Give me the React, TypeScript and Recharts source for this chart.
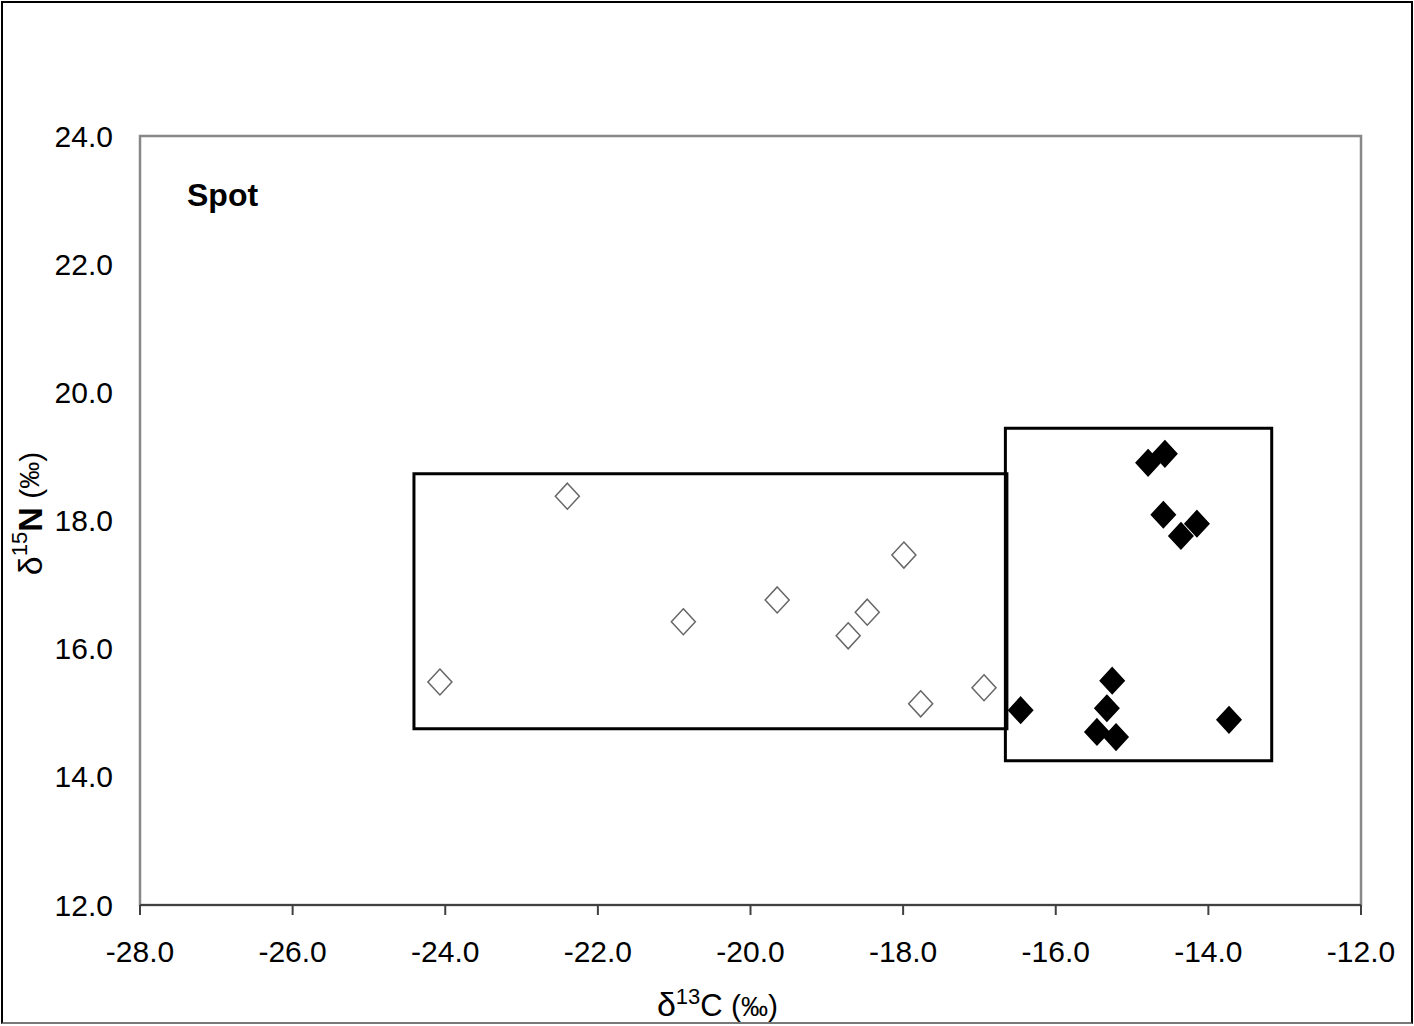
import {
  Label,
  ReferenceArea,
  Scatter,
  ScatterChart,
  XAxis,
  YAxis,
} from 'recharts';

// δ13C / δ15N readings for the two groups
const openX = [-24.07, -22.4, -20.88, -19.65, -18.72, -18.47, -17.99, -17.77, -16.94];
const openY = [15.48, 18.38, 16.42, 16.76, 16.2, 16.57, 17.46, 15.14, 15.39];
const filledX = [-16.46, -15.26, -15.33, -15.46, -15.21, -13.73, -14.79, -14.57, -14.59, -14.36, -14.15];
const filledY = [15.04, 15.5, 15.07, 14.7, 14.62, 14.89, 18.9, 19.04, 18.09, 17.76, 17.95];

// group boxes: [x1, x2, y1, y2]
const openBox = [-24.41, -16.64, 14.75, 18.73];
const filledBox = [-16.66, -13.17, 14.25, 19.44];

const xTicks = [-28, -26, -24, -22, -20, -18, -16, -14, -12];
const yTicks = [12, 14, 16, 18, 20, 22, 24];

const openData = openX.map((x, i) => ({ x, y: openY[i] }));
const filledData = filledX.map((x, i) => ({ x, y: filledY[i] }));

const FONT = '"Liberation Sans", Arial, sans-serif';

const diamond = (fill: string, stroke: string) => (props: any) => {
  const { cx, cy } = props;
  return (
    <polygon
      points={`${cx},${cy - 13} ${cx + 12},${cy} ${cx},${cy + 13} ${cx - 12},${cy}`}
      fill={fill}
      stroke={stroke}
      strokeWidth={1.5}
    />
  );
};

const YTitle = (props: any) => {
  const vb = props.viewBox;
  const x = vb.x + 30;
  const y = vb.y + vb.height / 2 - 7;
  return (
    <text
      x={x}
      y={y}
      transform={`rotate(-90 ${x} ${y})`}
      textAnchor="middle"
      dominantBaseline="central"
      fontFamily={FONT}
      fill="#000"
    >
      <tspan fontSize={34}>δ</tspan>
      <tspan fontSize={22} dy={-11}>15</tspan>
      <tspan fontSize={34} fontWeight="bold" dy={11}>N</tspan>
      <tspan fontSize={30}> (</tspan>
      <tspan fontSize={27}>‰</tspan>
      <tspan fontSize={30}>)</tspan>
    </text>
  );
};

const XTitle = (props: any) => {
  const vb = props.viewBox;
  const x = vb.x + vb.width / 2 - 33;
  const y = vb.y + 111;
  return (
    <text x={x} y={y} textAnchor="middle" fontFamily={FONT} fill="#000">
      <tspan fontSize={34}>δ</tspan>
      <tspan fontSize={22} dy={-12}>13</tspan>
      <tspan fontSize={31} dy={12}>C</tspan>
      <tspan fontSize={30}> (</tspan>
      <tspan fontSize={27}>‰</tspan>
      <tspan fontSize={30}>)</tspan>
    </text>
  );
};

export default function App() {
  return (
    <div style={{ position: 'absolute', left: 0, top: 0, width: 1414, height: 1026, background: '#fff' }}>
      <ScatterChart
        width={1414}
        height={1026}
        margin={{ top: 136, right: 53, left: 0, bottom: 0 }}
        style={{ fontFamily: FONT }}
      >
        <XAxis
          type="number"
          dataKey="x"
          domain={[-28, -12]}
          ticks={xTicks}
          tickFormatter={(v: number) => v.toFixed(1)}
          height={121}
          tickSize={10}
          tickMargin={26}
          axisLine={{ stroke: '#404040', strokeWidth: 2 }}
          tickLine={{ stroke: '#404040', strokeWidth: 2 }}
          tick={{ fill: '#000', fontSize: 30 }}
        >
          <Label content={XTitle} />
        </XAxis>
        <YAxis
          type="number"
          dataKey="y"
          domain={[12, 24]}
          ticks={yTicks}
          tickFormatter={(v: number) => v.toFixed(1)}
          width={140}
          tickSize={0}
          tickMargin={27}
          axisLine={false}
          tickLine={false}
          tick={{ fill: '#000', fontSize: 30 }}
        >
          <Label content={YTitle} />
        </YAxis>
        <ReferenceArea
          x1={-28}
          x2={-12}
          y1={12}
          y2={24}
          fill="none"
          stroke="#888"
          strokeWidth={2.5}
          fillOpacity={0}
        >
          <Label
            value="Spot"
            position="insideTopLeft"
            offset={47}
            fontSize={32}
            fontWeight="bold"
            fill="#000"
          />
        </ReferenceArea>
        <ReferenceArea
          x1={openBox[0]}
          x2={openBox[1]}
          y1={openBox[2]}
          y2={openBox[3]}
          fill="none"
          fillOpacity={0}
          stroke="#000"
          strokeWidth={3}
        />
        <ReferenceArea
          x1={filledBox[0]}
          x2={filledBox[1]}
          y1={filledBox[2]}
          y2={filledBox[3]}
          fill="none"
          fillOpacity={0}
          stroke="#000"
          strokeWidth={3}
        />
        <Scatter data={openData} shape={diamond('#fff', '#666')} isAnimationActive={false} />
        <Scatter data={filledData} shape={diamond('#000', '#000')} isAnimationActive={false} />
      </ScatterChart>
      <div
        style={{
          position: 'absolute',
          left: 1,
          top: 1,
          width: 1408,
          height: 1019,
          borderTop: '2px solid #000',
          borderLeft: '2px solid #000',
          borderRight: '2px solid #000',
          borderBottom: '2px solid #777',
          pointerEvents: 'none',
        }}
      />
    </div>
  );
}
